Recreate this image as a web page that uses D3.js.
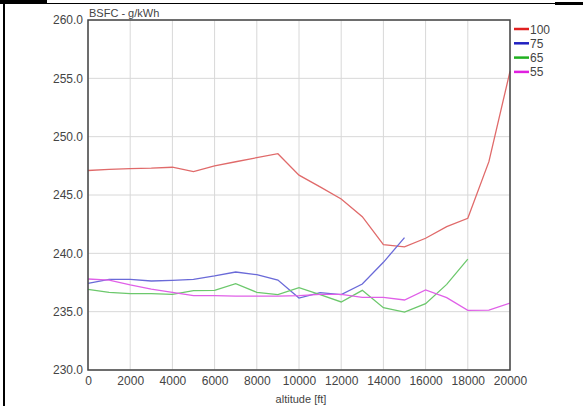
<!DOCTYPE html>
<html>
<head>
<meta charset="utf-8">
<script src="https://cdn.jsdelivr.net/npm/d3@7"></script>
<style>
  body { margin: 0; background: #fff; }
  svg text { font-family: "Liberation Sans", Arial, sans-serif; fill: #444; }
</style>
</head>
<body>
<div id="chart"></div>
<script>
var altitudes = [0, 1000, 2000, 3000, 4000, 5000, 6000, 7000, 8000, 9000, 10000,
    11000, 12000, 13000, 14000, 15000, 16000, 17000, 18000, 19000, 20000];

var seriesNames = ['100', '75', '65', '55'];
var lineColors = ['#e06a6a', '#6a6ad8', '#6cc86c', '#e060e8'];
var legendColors = ['#e02020', '#2020c0', '#20b020', '#e020e0'];

var bsfc100 = [247.1, 247.2, 247.26, 247.3, 247.38, 247.0, 247.49, 247.85, 248.2, 248.54, 246.7,
    245.7, 244.66, 243.14, 240.74, 240.55, 241.29, 242.29, 243.0, 247.86, 255.6];
var bsfc75 = [237.43, 237.77, 237.77, 237.63, 237.68, 237.77, 238.06, 238.4, 238.17, 237.71, 236.17,
    236.63, 236.46, 237.37, 239.23, 241.34];
var bsfc65 = [236.91, 236.66, 236.54, 236.54, 236.49, 236.8, 236.83, 237.4, 236.66, 236.46, 237.06,
    236.46, 235.83, 236.83, 235.34, 234.97, 235.69, 237.34, 239.5];
var bsfc55 = [237.8, 237.71, 237.29, 236.94, 236.66, 236.37, 236.37, 236.34, 236.34, 236.34, 236.37,
    236.49, 236.49, 236.23, 236.23, 236.0, 236.86, 236.2, 235.11, 235.14, 235.74];

var allSeries = [bsfc100, bsfc75, bsfc65, bsfc55];

var xTicks = [0, 2000, 4000, 6000, 8000, 10000, 12000, 14000, 16000, 18000, 20000];
var yTicks = [230, 235, 240, 245, 250, 255, 260];

var width = 583, height = 406,
    plot = {left: 88, right: 510, top: 20, bottom: 370};

var svg = d3.select('#chart').append('svg')
    .attr('width', width)
    .attr('height', height);

// scanned page frame
svg.append('rect').attr('x', 3).attr('y', 0).attr('width', 2).attr('height', height).attr('fill', '#000');
svg.append('rect').attr('x', 0).attr('y', 3).attr('width', width).attr('height', 1).attr('fill', '#000');
svg.append('rect').attr('x', 0).attr('y', 0).attr('width', 47).attr('height', 4).attr('fill', '#000');
svg.append('rect').attr('x', 555).attr('y', 2).attr('width', 28).attr('height', 3).attr('fill', '#000');

var xScale = d3.scaleLinear().domain([0, 20000]).range([plot.left, plot.right]);
var yScale = d3.scaleLinear().domain([230, 260]).range([plot.bottom, plot.top]);

// grid
svg.append('g').selectAll('line').data(xTicks).enter().append('line')
    .attr('x1', function (d) { return xScale(d); })
    .attr('x2', function (d) { return xScale(d); })
    .attr('y1', plot.top).attr('y2', plot.bottom)
    .attr('stroke', '#d8d8d8');
svg.append('g').selectAll('line').data(yTicks).enter().append('line')
    .attr('y1', function (d) { return yScale(d); })
    .attr('y2', function (d) { return yScale(d); })
    .attr('x1', plot.left).attr('x2', plot.right)
    .attr('stroke', '#d8d8d8');

// axes
var xAxis = d3.axisBottom(xScale).tickValues(xTicks).tickSize(0).tickPadding(6).tickFormat(d3.format('d'));
var yAxis = d3.axisLeft(yScale).tickValues(yTicks).tickSize(0).tickPadding(5).tickFormat(d3.format('.1f'));

svg.append('g')
    .attr('transform', 'translate(0,' + plot.bottom + ')')
    .call(xAxis)
    .call(function (g) { g.select('.domain').remove(); })
    .selectAll('text').style('font-size', '12px').attr('fill', '#444');

svg.append('g')
    .attr('transform', 'translate(' + plot.left + ',0)')
    .call(yAxis)
    .call(function (g) { g.select('.domain').remove(); })
    .selectAll('text').style('font-size', '12px').attr('fill', '#444');

// lines
var line = d3.line()
    .x(function (d, i) { return xScale(altitudes[i]); })
    .y(function (d) { return yScale(d); });

svg.append('g').selectAll('path').data(allSeries).enter().append('path')
    .attr('d', line)
    .attr('fill', 'none')
    .attr('stroke', function (d, i) { return lineColors[i]; })
    .attr('stroke-width', 1.3);

// plot frame
svg.append('rect')
    .attr('x', plot.left).attr('y', plot.top)
    .attr('width', plot.right - plot.left)
    .attr('height', plot.bottom - plot.top)
    .attr('fill', 'none')
    .attr('stroke', '#444')
    .attr('stroke-width', 1.5);

// titles
svg.append('text')
    .attr('x', plot.left + 1).attr('y', 17)
    .style('font-size', '11px')
    .text('BSFC - g/kWh');

svg.append('text')
    .attr('x', (plot.left + plot.right) / 2 + 2).attr('y', 403)
    .attr('text-anchor', 'middle')
    .style('font-size', '11px')
    .text('altitude [ft]');

// legend
var legend = svg.append('g').selectAll('g').data(seriesNames).enter().append('g')
    .attr('transform', function (d, i) { return 'translate(514,' + (29 + i * 14.3) + ')'; });
legend.append('line')
    .attr('x1', 0).attr('x2', 15)
    .attr('stroke', function (d, i) { return legendColors[i]; })
    .attr('stroke-width', 2.5);
legend.append('text')
    .attr('x', 16).attr('y', 4.5)
    .style('font-size', '12px')
    .text(function (d) { return d; });
</script>
</body>
</html>
